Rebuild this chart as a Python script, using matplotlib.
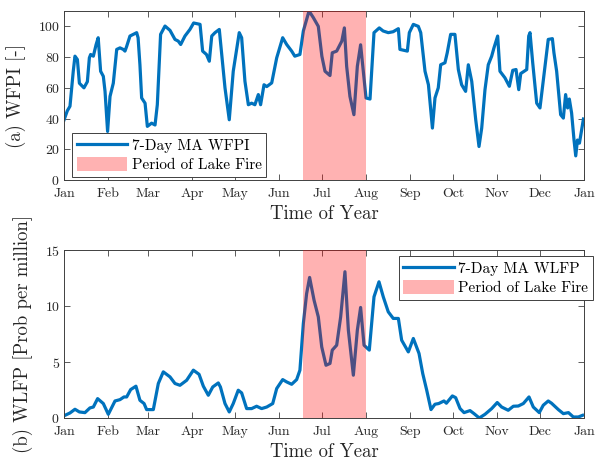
import numpy as np
import matplotlib
matplotlib.use("Agg")
import matplotlib.pyplot as plt
from matplotlib.patches import Patch
from matplotlib.lines import Line2D

# Day of year (0 = Jan 1) and 7-day moving average values
wfpi_day = [0, 2.3, 4.2, 6.5, 7.7, 9.4, 10.8, 14, 16.4, 17.8, 18.7, 20.6, 22.5, 24,
            25.7, 27.6, 28.8, 30.6, 32.3, 34.6, 37, 39.3, 41.6, 42.8, 44, 46.3, 48.7,
            51, 52, 53.3, 54.5, 56.9, 58.5, 61.5, 63.9, 65.5, 67.8, 70.9, 74.4, 77.9,
            80.2, 81.9, 84.9, 88.4, 91, 95.5, 97.3, 100, 102, 103.7, 106, 109, 110.7,
            113, 116, 118.8, 123, 124.7, 127, 129.4, 131.7, 134, 136.4, 138, 140.4,
            142.3, 145.8, 149.3, 153.5, 156.3, 159.8, 162, 165.6, 168, 172, 175,
            178.5, 181, 183.2, 186.7, 188.3, 191.4, 195, 196.8, 198.4, 200.7, 203.5,
            205.9, 208.2, 210, 212, 214.8, 217.6, 221.3, 224, 227.6, 231, 234.7,
            235.8, 241, 242.4, 245.2, 248.7, 250.4, 253.4, 255.8, 258.6, 260.4,
            262.7, 264.4, 267.4, 269, 271.4, 274.4, 276.8, 279.1, 281.9, 283.8,
            286.2, 289, 291.3, 293.2, 295.5, 297.8, 300.2, 301.8, 304.4, 306, 309.5,
            312.6, 315, 317.3, 319.2, 320.6, 324.8, 326.2, 327.1, 329, 331.8, 334.1,
            337.6, 339.9, 342.8, 343.9, 345.8, 348.6, 350.5, 352.1, 353.5, 354.7,
            356.3, 358, 359.2, 360.4, 361.8, 364.6]
wfpi_val = [39, 45, 48, 70.8, 80.6, 78.4, 63, 60, 64, 79.5, 81.7, 80.6, 88, 92.6,
            70.8, 67.5, 57.7, 31.6, 54.4, 63, 85, 86, 85, 83.9, 87, 93.7, 94.8,
            95.9, 92.6, 75, 53.4, 50, 34.9, 37, 35.8, 49, 94.8, 100.2, 97.4, 91.5,
            90.4, 88.2, 93.7, 98, 102.2, 101.3, 83.9, 81.7, 77.3, 93.7, 95.9, 98,
            81.7, 60, 39.2, 70.8, 95.9, 92.6, 64.3, 49, 50, 49, 55.6, 49, 62, 60.8,
            63.2, 79.5, 92.6, 88.2, 83.9, 80.6, 81.7, 97, 110, 105.7, 100, 80.6,
            70.8, 68, 82.8, 83.9, 90.4, 99, 74, 54.4, 42.5, 74, 88, 71.9, 53.4,
            52.7, 95.9, 99, 97, 95.9, 96.5, 98.5, 85, 83.9, 95.9, 101.3, 100, 95.9,
            70.8, 62, 33.8, 53.4, 60, 75, 76.3, 82.8, 94.8, 94.8, 71.9, 62, 57.7,
            75, 64.2, 39.2, 21.8, 33.8, 58.8, 75, 80.6, 86, 93.7, 70.8, 66.5, 61,
            71.4, 71.9, 58.8, 69.3, 71.9, 93.7, 95.9, 76.3, 50, 46.9, 74, 91.5, 92,
            82.8, 70.8, 42.5, 40.3, 55.6, 46.9, 52.7, 43.6, 26, 15.7, 26, 24, 39.7]

wlfp_day = [0.7, 4.2, 7.7, 10.8, 14.7, 18.2, 20.6, 23.6, 27.6, 31.1, 35.8, 39.3,
            42.1, 44, 46.8, 50.5, 53.3, 56.2, 58, 62.7, 66.2, 69.7, 74.4, 77.9,
            81.4, 86.1, 90.8, 94.8, 97.8, 101.3, 104.4, 108.3, 109.8, 113, 116,
            118.8, 122.3, 124.7, 128.2, 131.7, 135.2, 138.7, 142.3, 146.5, 149.3,
            153.5, 156.3, 159.8, 163.3, 165.6, 168, 170.3, 172.4, 175.5, 178.5,
            180.9, 183.9, 186.7, 188.3, 191.4, 194.2, 197.2, 199.6, 203.1, 205.9,
            208.2, 210.6, 214.3, 217.6, 221.1, 224.1, 227.6, 231.1, 234.7, 237,
            241.7, 245.2, 249.2, 251.8, 254.6, 257.6, 260.4, 263, 266.7, 268.4,
            272.6, 274.9, 278, 280.8, 285, 287.8, 291.5, 295.5, 300.2, 304.1,
            307.2, 311.8, 315.4, 318.9, 322.4, 326.4, 329.4, 333.6, 336.4, 339.9,
            342.2, 347, 350.5, 354.1, 357.5, 361, 364]
wlfp_val = [0.24, 0.45, 0.78, 0.54, 0.48, 0.9, 0.98, 1.73, 1.29, 0.33, 1.52, 1.64,
            1.88, 1.88, 2.54, 2.84, 1.58, 1.29, 0.75, 0.75, 3.08, 4.12, 3.67, 3.08,
            2.92, 3.37, 4.27, 3.9, 2.84, 2.03, 2.77, 3.13, 2.77, 1.29, 0.54, 1.29,
            2.48, 2.24, 0.84, 0.84, 1.05, 0.84, 0.98, 1.29, 2.63, 3.43, 3.22, 3.01,
            3.43, 4.27, 8.44, 11.1, 12.55, 10.53, 9.03, 6.35, 4.71, 4.87, 6.06, 6.5,
            9.03, 13.06, 7.84, 3.82, 7.84, 9.87, 6.5, 6.06, 10.82, 12.16, 10.82,
            9.48, 8.89, 8.89, 6.95, 5.9, 7.1, 5.76, 3.97, 2.48, 0.75, 1.23, 1.29,
            1.52, 1.32, 1.97, 1.82, 0.84, 0.48, 0.66, 0.39, 0.0, 0.33, 0.84, 1.38,
            0.98, 0.69, 1.05, 1.07, 1.29, 1.88, 0.98, 0.48, 1.14, 1.52, 1.32, 0.75,
            0.39, 0.48, 0.09, 0.09, 0.24]

month_days = [0, 31, 59, 90, 120, 151, 181, 212, 243, 273, 304, 334, 365]
month_labels = ["Jan", "Feb", "Mar", "Apr", "May", "Jun", "Jul", "Aug", "Sep",
                "Oct", "Nov", "Dec", "Jan"]
fire_start, fire_end = 167.5, 212  # Lake Fire: Jun 17 - Aug 1

plt.rcParams["font.family"] = "serif"
plt.rcParams["font.serif"] = ["cmr10"]
plt.rcParams["mathtext.fontset"] = "cm"
plt.rcParams["axes.formatter.use_mathtext"] = True

line_color = "#0072BD"
axis_gray = "#404040"

fig = plt.figure(figsize=(6.02, 4.59), dpi=100)
ax1 = fig.add_axes([64 / 602, 1 - 180 / 459, 520 / 602, 169 / 459])
ax2 = fig.add_axes([64 / 602, 1 - 418 / 459, 520 / 602, 168 / 459])


def style_axis(ax, ylim, yticks, ylabel):
    ax.set_xlim(0, 365)
    ax.set_ylim(*ylim)
    ax.set_xticks(month_days)
    ax.set_xticklabels(month_labels)
    ax.set_yticks(yticks)
    ax.tick_params(direction="in", top=True, right=True, length=4, width=0.6,
                   labelsize=10, colors=axis_gray, labelcolor="#262626")
    ax.tick_params(axis="x", pad=6)
    ax.tick_params(axis="y", pad=3)
    for s in ax.spines.values():
        s.set_color(axis_gray)
        s.set_linewidth(0.7)
    ax.set_xlabel("Time of Year", fontsize=13.5, color="#262626", labelpad=3)
    ax.set_ylabel(ylabel, fontsize=13.5, color="#262626", labelpad=8)


ax1.plot(wfpi_day, wfpi_val, color=line_color, lw=2.3, zorder=2)
ax1.axvspan(fire_start, fire_end, color="red", alpha=0.3, lw=0, zorder=3)
style_axis(ax1, (0, 110), [0, 20, 40, 60, 80, 100], "(a) WFPI [-]")

ax2.plot(wlfp_day, wlfp_val, color=line_color, lw=2.3, zorder=2)
ax2.axvspan(fire_start, fire_end, color="red", alpha=0.3, lw=0, zorder=3)
style_axis(ax2, (0, 15), [0, 5, 10, 15], "(b) WLFP [Prob per million]")

fire_patch = Patch(facecolor="red", alpha=0.3, edgecolor="none")

leg1 = ax1.legend([Line2D([], [], color=line_color, lw=2.3), fire_patch],
                  ["7-Day MA WFPI", "Period of Lake Fire"],
                  loc="lower left", bbox_to_anchor=(8 / 520, 3 / 169),
                  fontsize=11, handlelength=3.3, handleheight=1.0,
                  borderaxespad=0, fancybox=False, framealpha=1,
                  edgecolor=axis_gray, borderpad=0.3, labelspacing=0.3,
                  handletextpad=0.3)
leg1.get_frame().set_linewidth(0.7)

leg2 = ax2.legend([Line2D([], [], color=line_color, lw=2.3), fire_patch],
                  ["7-Day MA WLFP", "Period of Lake Fire"],
                  loc="upper right", bbox_to_anchor=(529 / 520, 1 - 6 / 168),
                  fontsize=11, handlelength=3.3, handleheight=1.0,
                  borderaxespad=0, fancybox=False, framealpha=1,
                  edgecolor=axis_gray, borderpad=0.3, labelspacing=0.3,
                  handletextpad=0.3)
leg2.get_frame().set_linewidth(0.7)

fig.savefig("out.png", dpi=100)
